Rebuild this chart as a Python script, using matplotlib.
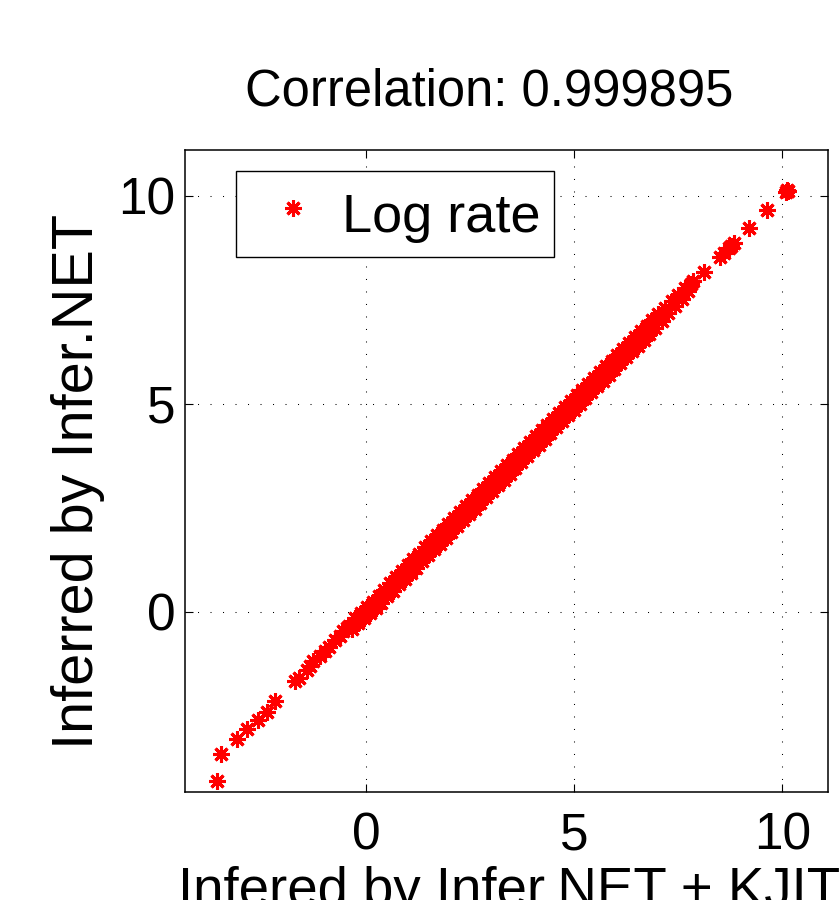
import matplotlib
matplotlib.use('Agg')
import matplotlib.pyplot as plt

plt.rcParams['font.family'] = ['Liberation Sans', 'DejaVu Sans']

# values (x: Infer.NET + KJIT, y: Infer.NET)
x_low = [-3.59, -3.49, -3.11, -2.85, -2.60, -2.39, -2.19, -1.71, -1.62, -1.43,
         -1.35, -1.27, -1.10, -0.99, -0.88, -0.75, -0.62, -0.55, -0.45]
y_low = [-4.06, -3.41, -3.06, -2.81, -2.60, -2.40, -2.14, -1.66, -1.60, -1.39,
         -1.30, -1.19, -1.06, -0.95, -0.84, -0.67, -0.58, -0.47, -0.40]

x_mid = [-0.40, -0.33, -0.26, -0.19, -0.12, -0.05, 0.02, 0.09, 0.16, 0.23,
         0.30, 0.37, 0.44, 0.51, 0.58, 0.65, 0.72, 0.79, 0.86, 0.93,
         1.00, 1.07, 1.14, 1.21, 1.28, 1.35, 1.42, 1.49, 1.56, 1.63,
         1.70, 1.77, 1.84, 1.91, 1.98, 2.05, 2.12, 2.19, 2.26, 2.33,
         2.40, 2.47, 2.54, 2.61, 2.68, 2.75, 2.82, 2.89, 2.96, 3.03,
         3.10, 3.17, 3.24, 3.31, 3.38, 3.45, 3.52, 3.59, 3.66, 3.73,
         3.80, 3.87, 3.94, 4.01, 4.08, 4.15, 4.22, 4.29, 4.36, 4.43,
         4.50, 4.57, 4.64, 4.71, 4.78, 4.85, 4.92, 4.99, 5.06, 5.13,
         5.20, 5.27, 5.34, 5.41, 5.48, 5.55, 5.62, 5.69, 5.76, 5.83,
         5.90, 5.97, 6.04, 6.11, 6.18, 6.25, 6.32, 6.39, 6.46, 6.53,
         6.60, 6.67, 6.74, 6.81, 6.88, 6.95, 7.02, 7.10, 7.18, 7.26,
         7.34, 7.42, 7.50, 7.58, 7.66, 7.74, 7.80, 7.86]
y_mid = [-0.33, -0.41, -0.16, -0.28, -0.02, -0.14, 0.12, -0.02, 0.24, 0.10,
         0.38, 0.22, 0.52, 0.38, 0.70, 0.50, 0.84, 0.66, 0.98, 0.80,
         1.12, 0.94, 1.26, 1.06, 1.40, 1.22, 1.55, 1.36, 1.70, 1.50,
         1.84, 1.64, 1.97, 1.78, 2.12, 1.92, 2.26, 2.06, 2.40, 2.20,
         2.54, 2.34, 2.68, 2.48, 2.82, 2.62, 2.96, 2.76, 3.10, 2.90,
         3.24, 3.04, 3.38, 3.18, 3.52, 3.32, 3.66, 3.46, 3.80, 3.60,
         3.94, 3.74, 4.08, 3.88, 4.22, 4.02, 4.36, 4.16, 4.50, 4.30,
         4.64, 4.44, 4.78, 4.58, 4.92, 4.72, 5.06, 4.86, 5.20, 5.00,
         5.34, 5.14, 5.48, 5.28, 5.62, 5.42, 5.76, 5.56, 5.90, 5.70,
         6.04, 5.84, 6.18, 5.98, 6.32, 6.12, 6.46, 6.26, 6.60, 6.40,
         6.74, 6.54, 6.88, 6.68, 7.02, 6.82, 7.16, 7.00, 7.30, 7.18,
         7.46, 7.34, 7.62, 7.52, 7.78, 7.72, 7.88, 7.94]

x_high = [8.13, 8.51, 8.60, 8.71, 8.78, 8.83, 9.21, 9.63, 10.08, 10.12, 10.15]
y_high = [8.17, 8.54, 8.62, 8.74, 8.80, 8.86, 9.22, 9.65, 10.10, 10.13, 10.11]

xs = x_low + x_mid + x_high
ys = y_low + y_mid + y_high

title = 'Correlation: 0.999895'
xlab = 'Infered by Infer.NET + KJIT'
ylab = 'Inferred by Infer.NET'

W, H = 839, 900
fig = plt.figure(figsize=(W / 100, H / 100), dpi=100)
ax = fig.add_axes([185 / W, 1 - 792 / H, (828 - 185) / W, (792 - 150) / H])

ax.plot(xs, ys, linestyle='none', marker=(8, 2, 0), markersize=12,
        markeredgewidth=2.2, color='red', label='Log rate')

ax.set_xlim(-4.35, 11.1)
ax.set_ylim(-4.33, 11.1)
ax.set_xticks([0, 5, 10])
ax.set_yticks([0, 5, 10])
ax.grid(True, color='k', linestyle=(0, (1, 11)), linewidth=0.75)
ax.tick_params(direction='in', length=6, width=0.8, top=True, right=True,
               labelsize=37)
ax.tick_params(axis='x', pad=14)
ax.tick_params(axis='y', pad=7)
for s in ax.spines.values():
    s.set_linewidth(1.1)

leg = ax.legend(loc='upper left', bbox_to_anchor=(236 / W, 1 - 171 / H),
                bbox_transform=fig.transFigure, borderaxespad=0,
                fancybox=False, edgecolor='k', framealpha=1, fontsize=39,
                handlelength=1.6, handleheight=1.3, handletextpad=0.1,
                borderpad=0.25, numpoints=1)
leg.get_frame().set_linewidth(1.0)

fig.text(489 / W, 1 - 106 / H, title, ha='center', va='baseline',
         fontsize=36.5)
fig.text(78 / W, 1 - 481 / H, ylab, ha='center', va='center',
         rotation=90, fontsize=41.5)
fig.text(178 / W, 1 - 866 / H, xlab, ha='left', va='top', fontsize=39.3)

fig.savefig('out.png', dpi=100)
